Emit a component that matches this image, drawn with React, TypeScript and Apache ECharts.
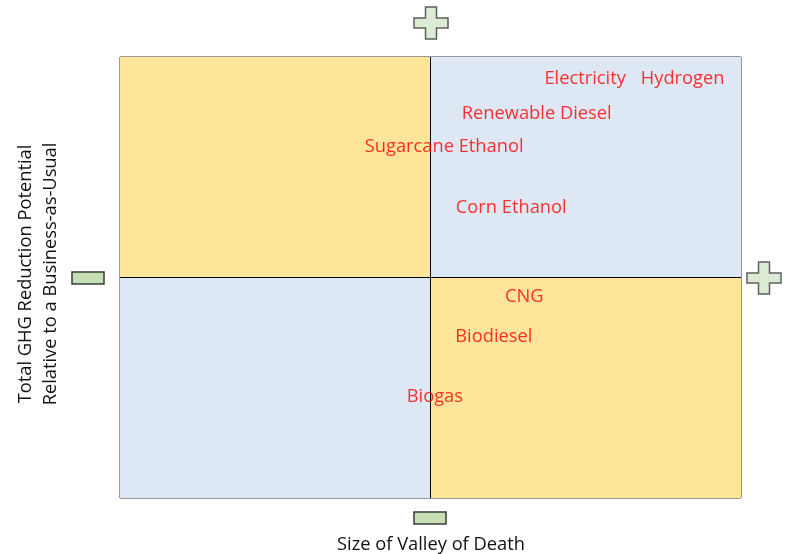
import React, { useEffect, useRef } from "react";
import * as echarts from "echarts";

const fuels = ["Electricity", "Hydrogen", "Renewable Diesel", "Sugarcane Ethanol", "Corn Ethanol", "CNG", "Biodiesel", "Biogas"];
const valleySize = [7.49, 9.06, 6.71, 5.22, 6.3, 6.51, 6.02, 5.07];
const ghgPotential = [9.52, 9.52, 8.73, 7.96, 6.58, 4.58, 3.67, 2.31];
const xTitle = "Size of Valley of Death";
const yTitleLines = ["Total GHG Reduction Potential", "Relative to a Business-as-Usual"];

const YELLOW = "#FFE599";
const BLUE = "#DEE8F4";
const FONT = "'Open Sans', sans-serif";
const FS = 18.3;

function plus(cx: number, cy: number) {
  const a = 5.5, b = 17, h = 5, w = 16;
  return {
    type: "polygon",
    shape: {
      points: [
        [cx - a, cy - w], [cx + a, cy - w], [cx + a, cy - h], [cx + b, cy - h], [cx + b, cy + h],
        [cx + a, cy + h], [cx + a, cy + w], [cx - a, cy + w], [cx - a, cy + h], [cx - b, cy + h],
        [cx - b, cy - h], [cx - a, cy - h],
      ],
    },
    style: { fill: "#DCEBD3", stroke: "#5f5f5f", lineWidth: 1.5 },
  };
}
function minus(cx: number, cy: number) {
  return {
    type: "rect",
    shape: { x: cx - 16, y: cy - 6, width: 32, height: 12 },
    style: { fill: "#C6E0B4", stroke: "#3a3a3a", lineWidth: 1.5 },
  };
}

export default function App() {
  const ref = useRef<HTMLDivElement>(null);
  useEffect(() => {
    if (!ref.current) return;
    const chart = echarts.init(ref.current, null, { renderer: "svg" });
    chart.setOption({
      animation: false,
      grid: { left: 120, right: 45, top: 57, bottom: 56, show: true, borderColor: "#333", borderWidth: 1, backgroundColor: "transparent" },
      xAxis: { type: "value", min: 0, max: 10, show: false },
      yAxis: { type: "value", min: 0, max: 10, show: false },
      series: [
        {
          type: "scatter",
          symbolSize: 0,
          data: fuels.map((f, i) => ({ name: f, value: [valleySize[i], ghgPotential[i]] })),
          label: {
            show: true,
            position: "inside",
            offset: [0, -2],
            formatter: "{b}",
            color: "#FF0000",
            fontSize: FS,
            fontFamily: FONT,
          },
          markArea: {
            silent: true,
            data: [
              [{ coord: [0, 5], itemStyle: { color: YELLOW } }, { coord: [5, 10] }],
              [{ coord: [5, 5], itemStyle: { color: BLUE } }, { coord: [10, 10] }],
              [{ coord: [0, 0], itemStyle: { color: BLUE } }, { coord: [5, 5] }],
              [{ coord: [5, 0], itemStyle: { color: YELLOW } }, { coord: [10, 5] }],
            ],
          },
          markLine: {
            silent: true,
            symbol: "none",
            label: { show: false },
            lineStyle: { color: "#000", width: 1, type: "solid" },
            data: [{ xAxis: 5 }, { yAxis: 5 }],
          },
          z: 5,
        },
      ],
      graphic: [
        plus(431, 23),
        plus(764, 278),
        minus(88, 278),
        minus(430, 518),
        {
          type: "text",
          x: 431,
          y: 542,
          style: { text: xTitle, fill: "#111", fontSize: FS, fontFamily: FONT, textAlign: "center", textVerticalAlign: "middle" },
        },
        {
          type: "text",
          x: 23,
          y: 274,
          rotation: Math.PI / 2,
          style: { text: yTitleLines[0], fill: "#111", fontSize: FS, fontFamily: FONT, textAlign: "center", textVerticalAlign: "middle" },
        },
        {
          type: "text",
          x: 48,
          y: 274,
          rotation: Math.PI / 2,
          style: { text: yTitleLines[1], fill: "#111", fontSize: FS, fontFamily: FONT, textAlign: "center", textVerticalAlign: "middle" },
        },
      ],
    });
    return () => chart.dispose();
  }, []);
  return <div ref={ref} style={{ position: "fixed", left: 0, top: 0, width: 786, height: 554 }} />;
}
